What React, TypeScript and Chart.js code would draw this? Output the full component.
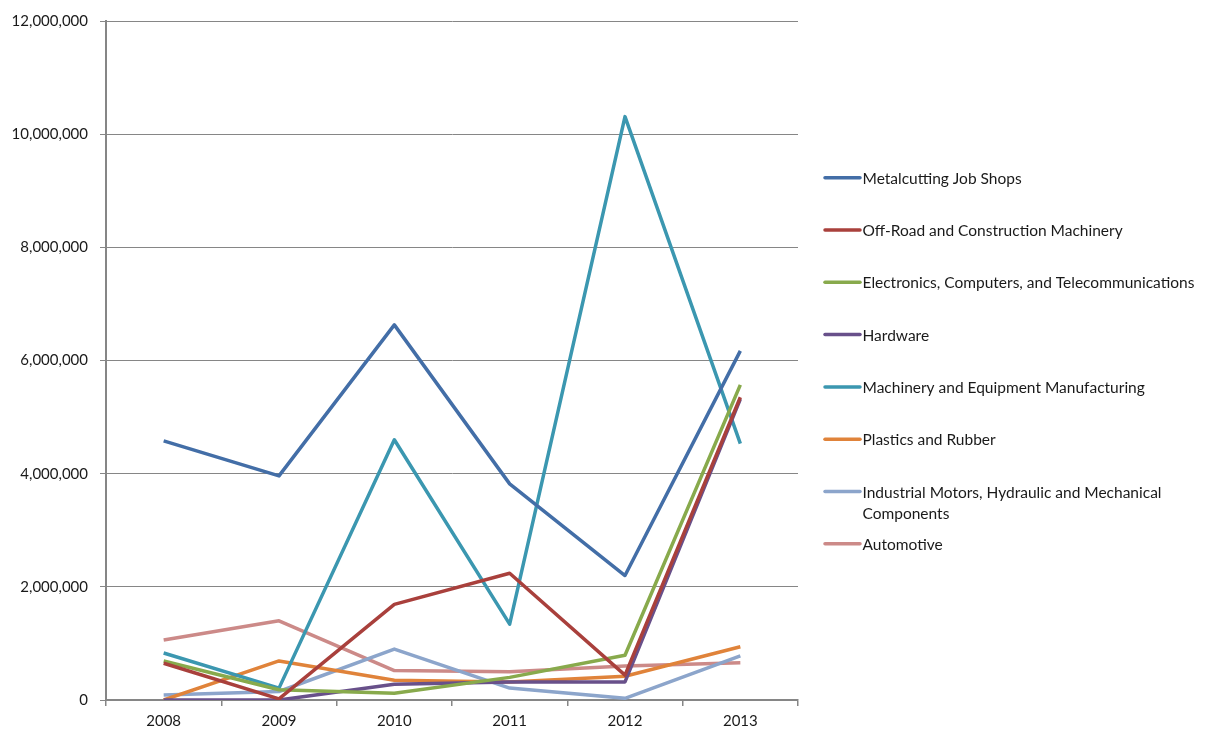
import React, { useEffect, useRef } from "react";
import { Chart, registerables } from "chart.js";

Chart.register(...registerables);

const years = ["2008", "2009", "2010", "2011", "2012", "2013"];

const seriesNames = [
  "Metalcutting Job Shops",
  "Off-Road and Construction Machinery",
  "Electronics, Computers, and Telecommunications",
  "Hardware",
  "Machinery and Equipment Manufacturing",
  "Plastics and Rubber",
  "Industrial Motors, Hydraulic and Mechanical Components",
  "Automotive",
];

const metalcutting = [4580000, 3960000, 6630000, 3820000, 2200000, 6170000];
const offRoad = [650000, 20000, 1690000, 2240000, 440000, 5350000];
const electronics = [690000, 180000, 120000, 400000, 790000, 5570000];
const hardware = [0, 0, 280000, 320000, 320000, 5320000];
const machinery = [830000, 210000, 4600000, 1340000, 10310000, 4530000];
const plastics = [0, 690000, 350000, 320000, 420000, 940000];
const motors = [90000, 150000, 900000, 210000, 30000, 780000];
const automotive = [1060000, 1400000, 520000, 500000, 600000, 660000];

const seriesValues = [metalcutting, offRoad, electronics, hardware, machinery, plastics, motors, automotive];

const colors = ["#436EA7", "#A9403C", "#88AA4C", "#68508A", "#3B97B0", "#E0833A", "#8CA5CB", "#CC8A88"];

const legendLines: string[][] = [
  ["Metalcutting Job Shops"],
  ["Off-Road and Construction Machinery"],
  ["Electronics, Computers, and Telecommunications"],
  ["Hardware"],
  ["Machinery and Equipment Manufacturing"],
  ["Plastics and Rubber"],
  ["Industrial Motors, Hydraulic and Mechanical", "Components"],
  ["Automotive"],
];

const FONT = "Lato, 'Open Sans', sans-serif";

const legendPlugin = {
  id: "sideLegend",
  afterDraw(chart: any) {
    const ctx = chart.ctx;
    ctx.save();
    const x0 = 825;
    const x1 = 860;
    const startY = 177.7;
    const step = 52.3;
    chart.data.datasets.forEach((ds: any, i: number) => {
      const y = startY + i * step;
      ctx.strokeStyle = ds.borderColor;
      ctx.lineWidth = 3.5;
      ctx.lineCap = "round";
      ctx.beginPath();
      ctx.moveTo(x0, y);
      ctx.lineTo(x1, y);
      ctx.stroke();
      ctx.fillStyle = "#1a1a1a";
      ctx.font = `15.5px ${FONT}`;
      ctx.textAlign = "left";
      ctx.textBaseline = "middle";
      legendLines[i].forEach((line, j) => {
        ctx.fillText(line, 862.5, y + 1 + j * 21.5);
      });
    });
    ctx.restore();
  },
};

export default function App() {
  const ref = useRef<HTMLCanvasElement | null>(null);

  useEffect(() => {
    if (!ref.current) return;
    const chart = new Chart(ref.current, {
      type: "line",
      data: {
        labels: years,
        datasets: seriesNames.map((name, i) => ({
          label: name,
          data: seriesValues[i],
          borderColor: colors[i],
          backgroundColor: colors[i],
          borderWidth: 3.5,
          pointRadius: 0,
          tension: 0,
          fill: false,
          borderJoinStyle: "round" as const,
        })),
      },
      options: {
        responsive: false,
        animation: false,
        maintainAspectRatio: false,
        layout: { padding: { left: 0, top: 19, right: 414, bottom: 0 } },
        plugins: {
          legend: { display: false },
          tooltip: { enabled: false },
          title: { display: false },
        },
        scales: {
          x: {
            offset: true,
            grid: {
              offset: true,
              drawOnChartArea: false,
              drawTicks: true,
              tickLength: 6,
              color: "#868686",
              lineWidth: 1.5,
            },
            border: { color: "#868686", width: 1.5 },
            ticks: { color: "#1a1a1a", font: { family: FONT, size: 15 }, padding: 6, maxRotation: 0 },
            afterFit(scale: any) {
              scale.height = 37;
            },
          },
          y: {
            min: 0,
            max: 12000000,
            grid: { color: "#868686", lineWidth: 1, tickLength: 6 },
            border: { color: "#868686", width: 2 },
            ticks: {
              stepSize: 2000000,
              color: "#1a1a1a",
              font: { family: FONT, size: 15 },
              padding: 12,
              callback: (v: any) => Number(v).toLocaleString("en-US"),
            },
            afterFit(scale: any) {
              scale.width = 106;
            },
          },
        },
      },
      plugins: [legendPlugin],
    });
    return () => chart.destroy();
  }, []);

  return (
    <div style={{ position: "fixed", left: 0, top: 0, width: 1212, height: 737, background: "#fff" }}>
      <canvas ref={ref} width={1212} height={737} style={{ width: 1212, height: 737, display: "block" }} />
    </div>
  );
}
